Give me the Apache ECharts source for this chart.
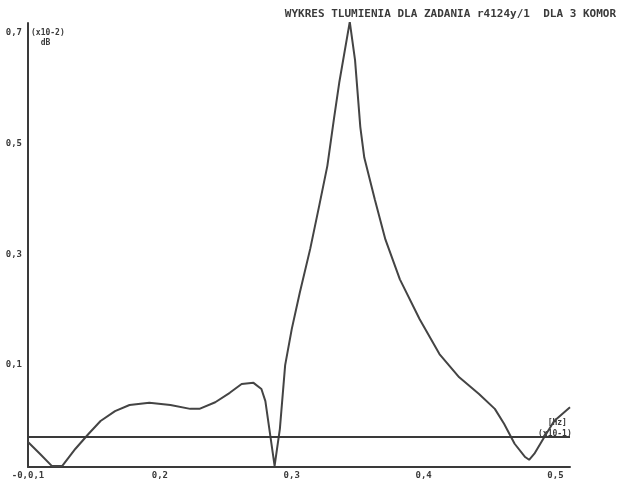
<!DOCTYPE html>
<html>
<head>
<meta charset="utf-8">
<script src="https://cdn.jsdelivr.net/npm/echarts@6/dist/echarts.min.js"></script>
<style>
    html, body { margin: 0; padding: 0; background: #fff; }
    #chart { width: 624px; height: 486px; }
</style>
</head>
<body>
<div id="chart"></div>
<script>
// czestotliwosc (x10-1 Hz)
var freq = [0.100, 0.109, 0.118, 0.126, 0.136, 0.146, 0.155, 0.166, 0.177, 0.192,
    0.208, 0.223, 0.230, 0.242, 0.253, 0.262, 0.271, 0.277, 0.280, 0.283,
    0.287, 0.291, 0.295, 0.300, 0.306, 0.314, 0.321, 0.327, 0.332, 0.336,
    0.344, 0.348, 0.352, 0.355, 0.363, 0.371, 0.382, 0.397, 0.412, 0.427,
    0.442, 0.454, 0.461, 0.469, 0.477, 0.480, 0.484, 0.492, 0.499, 0.511];
// tlumienie (x10-2 dB)
var tlum = [-0.039, -0.060, -0.082, -0.082, -0.051, -0.024, -0.001, 0.017, 0.028, 0.032,
    0.028, 0.021, 0.021, 0.033, 0.050, 0.066, 0.068, 0.057, 0.035, -0.015,
    -0.082, -0.015, 0.100, 0.165, 0.230, 0.310, 0.390, 0.460, 0.545, 0.610,
    0.720, 0.651, 0.530, 0.475, 0.399, 0.327, 0.255, 0.183, 0.120, 0.078,
    0.048, 0.021, -0.006, -0.042, -0.066, -0.071, -0.060, -0.028, -0.001, 0.024];
var poziom = -0.028;
var xTicks = [0.1, 0.2, 0.3, 0.4, 0.5];
var xTickLabels = ['-0,0,1', '0,2', '0,3', '0,4', '0,5'];
var yTicks = [0.1, 0.3, 0.5, 0.7];
var yTickLabels = ['0,1', '0,3', '0,5', '0,7'];

var data = [];
for (var i = 0; i < freq.length; i++) {
    data.push([freq[i], tlum[i]]);
}

var font = 'DejaVu Sans Mono';
var ink = '#3a3a3a';

var option = {
    animation: false,
    backgroundColor: '#fff',
    title: {
        text: 'WYKRES TLUMIENIA DLA ZADANIA r4124y/1  DLA 3 KOMOR',
        right: 3,
        top: 4,
        textStyle: { fontFamily: font, fontSize: 11, fontWeight: 'bold', color: ink }
    },
    grid: { left: 28, right: 54, top: 23, bottom: 19 },
    xAxis: {
        type: 'value',
        min: 0.1,
        max: 0.511,
        axisLine: { onZero: false, lineStyle: { color: ink, width: 2 } },
        axisTick: { show: false },
        splitLine: { show: false },
        axisLabel: {
            customValues: xTicks,
            margin: 4,
            fontFamily: font, fontSize: 9, fontWeight: 'bold', color: ink,
            formatter: function(v) {
                return xTickLabels[xTicks.indexOf(Math.round(v * 10) / 10)];
            }
        }
    },
    yAxis: {
        type: 'value',
        min: -0.084,
        max: 0.718,
        axisLine: { show: true, lineStyle: { color: ink, width: 2 } },
        axisTick: { show: false },
        splitLine: { show: false },
        axisLabel: {
            customValues: yTicks,
            margin: 6,
            fontFamily: font, fontSize: 9, fontWeight: 'bold', color: ink,
            formatter: function(v) {
                return yTickLabels[yTicks.indexOf(Math.round(v * 10) / 10)];
            }
        }
    },
    graphic: [
        { type: 'text', left: 31, top: 28, style: { text: '(x10-2)\n  dB', fontFamily: font, fontSize: 8, fontWeight: 'bold', fill: ink, lineHeight: 10 } },
        { type: 'text', left: 538, top: 417, style: { text: '  [Hz]\n(x10-1)', fontFamily: font, fontSize: 8, fontWeight: 'bold', fill: ink, lineHeight: 11 } }
    ],
    series: [{
        type: 'line',
        data: data,
        showSymbol: false,
        smooth: false,
        lineStyle: { color: '#444', width: 2 },
        markLine: {
            silent: true,
            symbol: 'none',
            label: { show: false },
            lineStyle: { color: ink, width: 2, type: 'solid' },
            data: [{ yAxis: poziom }]
        }
    }]
};

var myChart = echarts.init(document.getElementById('chart'));
myChart.setOption(option);
</script>
</body>
</html>
